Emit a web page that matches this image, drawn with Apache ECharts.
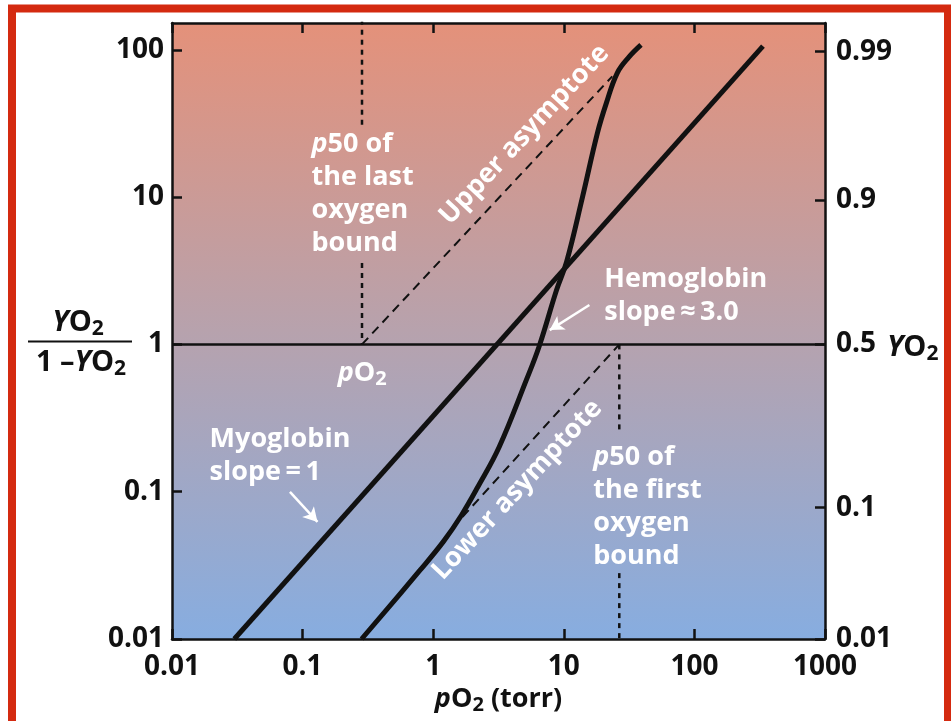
<!DOCTYPE html>
<html><head><meta charset="utf-8">
<script src="https://cdn.jsdelivr.net/npm/echarts@6/dist/echarts.min.js"></script>
<style>html,body{margin:0;padding:0;background:#fff;}#c{width:951px;height:721px;}</style>
</head><body><div id="c"></div>
<script>
// ---- axis ticks / labels ----
const xTicks = [0.01, 0.1, 1, 10, 100, 1000];
const xTickLabels = ['0.01', '0.1', '1', '10', '100', '1000'];
const yTicks = [0.01, 0.1, 1, 10, 100];
const yTickLabels = ['0.01', '0.1', '1', '10', '100'];
const rightTickPos = [0.01, 0.078, 1, 9.5, 97];
const rightTickLabels = ['0.01', '0.1', '0.5', '0.9', '0.99'];

// ---- curves: [pO2 (torr), Y/(1-Y)] ----
const myoglobin = [[0.03, 0.01], [335, 106]];
const hemoglobin = [[0.283, 0.01], [0.79, 0.0292], [1.2, 0.046], [1.65, 0.0695], [2.2, 0.108],
  [3.2, 0.201], [5.17, 0.574], [6.5, 0.98], [8.8, 2.34], [10.5, 3.63], [13.9, 10], [18.1, 27.3],
  [21.2, 43.6], [25.7, 69.8], [31.6, 89.5], [39, 108]];
const upperAsymptote = [[0.285, 1], [23.5, 66]];
const lowerAsymptote = [[1.68, 0.0675], [26.6, 1]];
const halfSaturation = [[0.01, 1], [1000, 1]];
const p50LastDotsA = [[0.285, 160], [0.285, 31]];
const p50LastDotsB = [[0.285, 3.57], [0.285, 1]];
const p50FirstDotsA = [[26.6, 1], [26.6, 0.255]];
const p50FirstDotsB = [[26.6, 0.028], [26.6, 0.01]];

const XMIN = 0.01, XMAX = 1000, YMIN = 0.01, YMAX = 152;
const INK = '#111';
const FONT = '"Open Sans", "Noto Sans", sans-serif';

function lab(vals, labels) {
  return function (v) {
    for (let i = 0; i < vals.length; i++) if (Math.abs(Math.log10(v) - Math.log10(vals[i])) < 1e-6) return labels[i];
    return '';
  };
}
const tickLabelStyle = { fontFamily: FONT, fontWeight: 'bold', fontSize: 28, color: INK };

const chart = echarts.init(document.getElementById('c'));
const option = {
  animation: false,
  backgroundColor: '#fff',
  grid: {
    left: 172, right: 126, top: 23, bottom: 82, show: true, borderWidth: 0,
    backgroundColor: new echarts.graphic.LinearGradient(0, 0, 0, 1, [
      { offset: 0, color: '#E4917A' },
      { offset: 0.5, color: '#B7A2AD' },
      { offset: 1, color: '#87ADE0' }
    ])
  },
  xAxis: [
    {
      type: 'log', logBase: 10, min: XMIN, max: XMAX, position: 'bottom',
      axisLine: { show: true, lineStyle: { color: INK, width: 2.5 } },
      axisTick: { show: true, inside: true, length: 10, lineStyle: { color: INK, width: 2.5 }, customValues: xTicks },
      axisLabel: Object.assign({ margin: 14, customValues: xTicks, formatter: lab(xTicks, xTickLabels) }, tickLabelStyle),
      splitLine: { show: false },
      name: '{i|p}O{s|2} (torr)', nameLocation: 'middle', nameGap: 43,
      nameTextStyle: {
        fontFamily: FONT, fontWeight: 'bold', fontSize: 27, color: INK,
        rich: {
          i: { fontFamily: FONT, fontWeight: 'bold', fontStyle: 'italic', fontSize: 27, color: INK },
          s: { fontFamily: FONT, fontWeight: 'bold', fontSize: 20, color: INK, padding: [12, 0, 0, 0] }
        }
      }
    },
    {
      type: 'log', logBase: 10, min: XMIN, max: XMAX, position: 'top',
      axisLine: { show: true, lineStyle: { color: INK, width: 2.5 } },
      axisTick: { show: true, inside: true, length: 10, lineStyle: { color: INK, width: 2.5 }, customValues: xTicks },
      axisLabel: { show: false },
      splitLine: { show: false }
    }
  ],
  yAxis: [
    {
      type: 'log', logBase: 10, min: YMIN, max: YMAX, position: 'left',
      axisLine: { show: true, lineStyle: { color: INK, width: 2.5 } },
      axisTick: { show: true, inside: true, length: 10, lineStyle: { color: INK, width: 2.5 }, customValues: yTicks },
      axisLabel: Object.assign({ margin: 8, customValues: yTicks, formatter: lab(yTicks, yTickLabels) }, tickLabelStyle),
      splitLine: { show: false }
    },
    {
      type: 'log', logBase: 10, min: YMIN, max: YMAX, position: 'right',
      axisLine: { show: true, lineStyle: { color: INK, width: 2.5 } },
      axisTick: { show: true, inside: true, length: 10, lineStyle: { color: INK, width: 2.5 }, customValues: rightTickPos },
      axisLabel: Object.assign({ margin: 11, customValues: rightTickPos, formatter: lab(rightTickPos, rightTickLabels) }, tickLabelStyle),
      splitLine: { show: false }
    }
  ],
  series: [
    { name: 'half', type: 'line', data: halfSaturation, symbol: 'none', lineStyle: { color: INK, width: 2.5 }, z: 3 },
    { name: 'Upper asymptote', type: 'line', data: upperAsymptote, symbol: 'none', lineStyle: { color: INK, width: 2, type: [9, 6] } },
    { name: 'Lower asymptote', type: 'line', data: lowerAsymptote, symbol: 'none', lineStyle: { color: INK, width: 2, type: [9, 6] } },
    { name: 'dotA', type: 'line', data: p50LastDotsA, symbol: 'none', lineStyle: { color: INK, width: 2.5, type: [5, 5] } },
    { name: 'dotB', type: 'line', data: p50LastDotsB, symbol: 'none', lineStyle: { color: INK, width: 2.5, type: [5, 5] } },
    { name: 'dotC', type: 'line', data: p50FirstDotsA, symbol: 'none', lineStyle: { color: INK, width: 2.5, type: [5, 5] } },
    { name: 'dotD', type: 'line', data: p50FirstDotsB, symbol: 'none', lineStyle: { color: INK, width: 2.5, type: [5, 5] } },
    { name: 'Myoglobin', type: 'line', data: myoglobin, symbol: 'none', lineStyle: { color: INK, width: 5 }, z: 4 },
    {
      name: 'Hemoglobin', type: 'line', data: hemoglobin, symbol: 'none', smooth: 0.4,
      lineStyle: { color: INK, width: 5 }, z: 4,
      markLine: {
        silent: true, symbol: ['none', 'arrow'], symbolSize: [12, 14], label: { show: false },
        lineStyle: { color: '#fff', width: 2.5, type: 'solid' },
        data: [
          [{ coord: [15.7, 1.85] }, { coord: [7.8, 1.25] }],
          [{ coord: [0.08, 0.0996] }, { coord: [0.13, 0.0623] }]
        ]
      }
    }
  ]
};
chart.setOption(option);

function px(x, y) { return chart.convertToPixel({ xAxisIndex: 0, yAxisIndex: 0 }, [x, y]); }
const AF = 27;
const white = { fontFamily: FONT, fontWeight: 'bold', fontSize: AF, fill: '#fff' };
const richI = { i: { fontFamily: FONT, fontWeight: 'bold', fontStyle: 'italic', fontSize: AF, fill: '#fff' },
  s: { fontFamily: FONT, fontWeight: 'bold', fontSize: 20, fill: '#fff', padding: [12, 0, 0, 0] } };

function block(text, x, y, extra) {
  const p = px(x, y);
  return Object.assign({ type: 'text', x: p[0], y: p[1], z: 100,
    style: Object.assign({ text: text, lineHeight: 33, rich: richI, align: 'left', verticalAlign: 'top', textAlign: 'left', textVerticalAlign: 'top' }, white) }, extra || {});
}
function rotated(text, x, y, deg) {
  const p = px(x, y);
  return { type: 'text', x: p[0], y: p[1], rotation: deg * Math.PI / 180, z: 100,
    style: Object.assign({ text: text, align: 'center', verticalAlign: 'middle', textAlign: 'center', textVerticalAlign: 'middle' }, white) };
}
const y1 = px(1, 1)[1];
const gl = chart.getModel().getComponent('grid').coordinateSystem.getRect();

const BF = 29;
const blackRich = {
  i: { fontFamily: FONT, fontWeight: 'bold', fontStyle: 'italic', fontSize: BF, fill: INK },
  n: { fontFamily: FONT, fontWeight: 'bold', fontSize: BF, fill: INK },
  s: { fontFamily: FONT, fontWeight: 'bold', fontSize: 21, fill: INK, padding: [13, 0, 0, 0] }
};

chart.setOption({
  graphic: [
    block('{i|p}50 of\nthe last\noxygen\nbound', 0.117, 29.5),
    block('{i|p}O{s|2}', 0.186, 0.83),
    block('Hemoglobin\nslope\u2009\u2248\u20093.0', 20.4, 3.57),
    block('Myoglobin\nslope\u2009=\u20091', 0.0194, 0.293),
    block('{i|p}50 of\nthe first\noxygen\nbound', 16.8, 0.221),
    rotated('Upper asymptote', 5.0, 26.5, 47),
    rotated('Lower asymptote', 4.4, 0.103, 47),
    // left axis title: fraction
    { type: 'text', x: 78, y: y1 - 5, z: 100, style: { text: '{i|Y}{n|O}{s|2}', rich: blackRich, align: 'center', verticalAlign: 'bottom', textAlign: 'center', textVerticalAlign: 'bottom' } },
    { type: 'line', z: 100, shape: { x1: 28, y1: y1 - 3, x2: 132, y2: y1 - 3 }, style: { stroke: INK, lineWidth: 2 } },
    { type: 'text', x: 81, y: y1 + 1, z: 100, style: { text: '{n|1 \u2013}{i|Y}{n|O}{s|2}', rich: blackRich, align: 'center', verticalAlign: 'top', textAlign: 'center', textVerticalAlign: 'top' } },
    // right axis title
    { type: 'text', x: gl.x + gl.width + 62, y: y1 - 14, z: 100, style: { text: '{i|Y}{n|O}{s|2}', rich: blackRich, align: 'left', verticalAlign: 'top', textAlign: 'left', textVerticalAlign: 'top' } },
    // red frame
    { type: 'rect', z: 200, shape: { x: 12, y: 8.5, width: 936, height: 740 }, style: { fill: 'none', stroke: '#D42A10', lineWidth: 8 } }
  ]
});
</script>
</body></html>
